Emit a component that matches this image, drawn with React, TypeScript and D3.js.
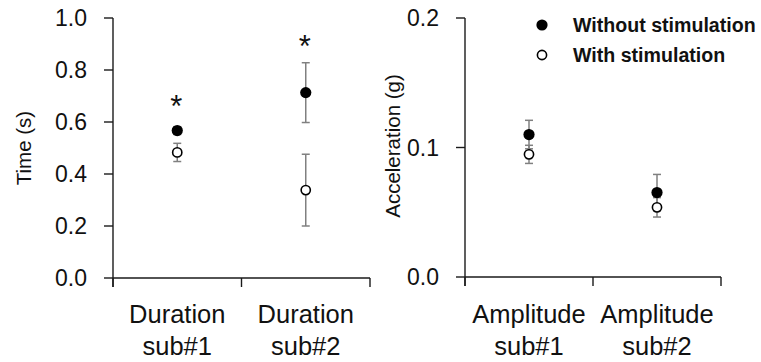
import React from "react";
import * as d3 from "d3";

const leftCategories = ["Duration sub#1", "Duration sub#2"];
const leftWithout = [0.567, 0.713];
const leftWithoutErr = [0.015, 0.115];
const leftWith = [0.483, 0.338];
const leftWithErr = [0.035, 0.138];
const leftTicks = [0, 0.2, 0.4, 0.6, 0.8, 1.0];
const leftSignificant = [true, true];
const leftStarValue = [0.688, 0.918];

const rightCategories = ["Amplitude sub#1", "Amplitude sub#2"];
const rightWithout = [0.11, 0.0652];
const rightWithoutErr = [0.011, 0.014];
const rightWith = [0.0947, 0.0538];
const rightWithErr = [0.007, 0.0075];
const rightTicks = [0, 0.1, 0.2];

const seriesNames = ["Without stimulation", "With stimulation"];

const FONT = "'Liberation Sans', Arial, sans-serif";
const AXIS = "#1a1a1a";
const ERR = "#808080";

type PanelProps = {
  x0: number;
  x1: number;
  yTop: number;
  yBottom: number;
  domainMax: number;
  ticks: number[];
  categories: string[];
  without: number[];
  withoutErr: number[];
  withV: number[];
  withErr: number[];
  yLabel: string;
  yLabelX: number;
  yLabelY: number;
  stars?: boolean[];
  starValues?: number[];
};

function Panel(p: PanelProps) {
  const x = d3.scaleBand<string>().domain(p.categories).range([p.x0, p.x1]);
  const y = d3.scaleLinear().domain([0, p.domainMax]).range([p.yBottom, p.yTop]);
  const fmt = d3.format(".1f");
  const cx = (c: string) => (x(c) as number) + x.bandwidth() / 2;
  const capW = 4;
  const errBar = (c: string, v: number, e: number, k: string) => {
    const xc = cx(c);
    return (
      <g key={k} stroke={ERR} strokeWidth={1.5}>
        <line x1={xc} x2={xc} y1={y(v + e)} y2={y(v - e)} />
        <line x1={xc - capW} x2={xc + capW} y1={y(v + e)} y2={y(v + e)} />
        <line x1={xc - capW} x2={xc + capW} y1={y(v - e)} y2={y(v - e)} />
      </g>
    );
  };
  const boundaries = [p.x0, ...p.categories.map((c) => (x(c) as number) + x.bandwidth())];
  return (
    <g>
      <line x1={p.x0} x2={p.x0} y1={p.yTop} y2={p.yBottom + 9} stroke={AXIS} strokeWidth={1.4} />
      {p.ticks.map((t) => (
        <g key={"t" + t}>
          <line x1={p.x0 - 9} x2={p.x0} y1={y(t)} y2={y(t)} stroke={AXIS} strokeWidth={1.4} />
          <text
            x={p.x0 - 26}
            y={y(t)}
            dy="0.35em"
            textAnchor="end"
            fontFamily={FONT}
            fontSize={23}
            fill="#111"
          >
            {fmt(t)}
          </text>
        </g>
      ))}
      <line x1={p.x0} x2={p.x1} y1={p.yBottom} y2={p.yBottom} stroke={AXIS} strokeWidth={1.4} />
      {boundaries.map((b, i) => (
        <line key={"b" + i} x1={b} x2={b} y1={p.yBottom} y2={p.yBottom + 9} stroke={AXIS} strokeWidth={1.4} />
      ))}
      {p.categories.map((c) => {
        const [l1, l2] = c.split(" ");
        return (
          <text key={"c" + c} x={cx(c)} textAnchor="middle" fontFamily={FONT} fontSize={25.5} fill="#111">
            <tspan x={cx(c)} y={323}>{l1}</tspan>
            <tspan x={cx(c)} y={355}>{l2}</tspan>
          </text>
        );
      })}
      <text
        transform={`translate(${p.yLabelX},${p.yLabelY}) rotate(-90)`}
        textAnchor="middle"
        fontFamily={FONT}
        fontSize={20.5}
        fill="#111"
      >
        {p.yLabel}
      </text>
      {p.categories.map((c, i) => errBar(c, p.without[i], p.withoutErr[i], "ew" + i))}
      {p.categories.map((c, i) => errBar(c, p.withV[i], p.withErr[i], "es" + i))}
      {p.categories.map((c, i) => (
        <circle key={"mw" + i} cx={cx(c)} cy={y(p.withV[i])} r={4.6} fill="#fff" stroke="#000" strokeWidth={1.6} />
      ))}
      {p.categories.map((c, i) => (
        <circle key={"mo" + i} cx={cx(c)} cy={y(p.without[i])} r={5.6} fill="#000" />
      ))}
      {p.stars &&
        p.categories.map((c, i) =>
          p.stars && p.stars[i] && p.starValues ? (
            <text
              key={"s" + i}
              x={cx(c) - 1}
              y={y(p.starValues[i]) + 18}
              textAnchor="middle"
              fontFamily={FONT}
              fontSize={31}
              fill="#111"
            >
              *
            </text>
          ) : null
        )}
    </g>
  );
}

export default function App() {
  return (
    <svg width={761} height={362} style={{ position: "absolute", left: 0, top: 0, background: "#fff" }}>
      <rect width={761} height={362} fill="#fff" />
      <Panel
        x0={113}
        x1={370}
        yTop={18}
        yBottom={278}
        domainMax={1}
        ticks={leftTicks}
        categories={leftCategories}
        without={leftWithout}
        withoutErr={leftWithoutErr}
        withV={leftWith}
        withErr={leftWithErr}
        yLabel="Time (s)"
        yLabelX={31}
        yLabelY={148}
        stars={leftSignificant}
        starValues={leftStarValue}
      />
      <Panel
        x0={465}
        x1={721}
        yTop={18}
        yBottom={277}
        domainMax={0.2}
        ticks={rightTicks}
        categories={rightCategories}
        without={rightWithout}
        withoutErr={rightWithoutErr}
        withV={rightWith}
        withErr={rightWithErr}
        yLabel="Acceleration (g)"
        yLabelX={400}
        yLabelY={146}
      />
      <circle cx={542} cy={25} r={5.6} fill="#000" />
      <text x={573} y={32} fontFamily={FONT} fontWeight="bold" fontSize={19.6} fill="#111">
        {seriesNames[0]}
      </text>
      <circle cx={542} cy={55} r={4.6} fill="#fff" stroke="#000" strokeWidth={1.6} />
      <text x={573} y={62} fontFamily={FONT} fontWeight="bold" fontSize={19.6} fill="#111">
        {seriesNames[1]}
      </text>
    </svg>
  );
}
